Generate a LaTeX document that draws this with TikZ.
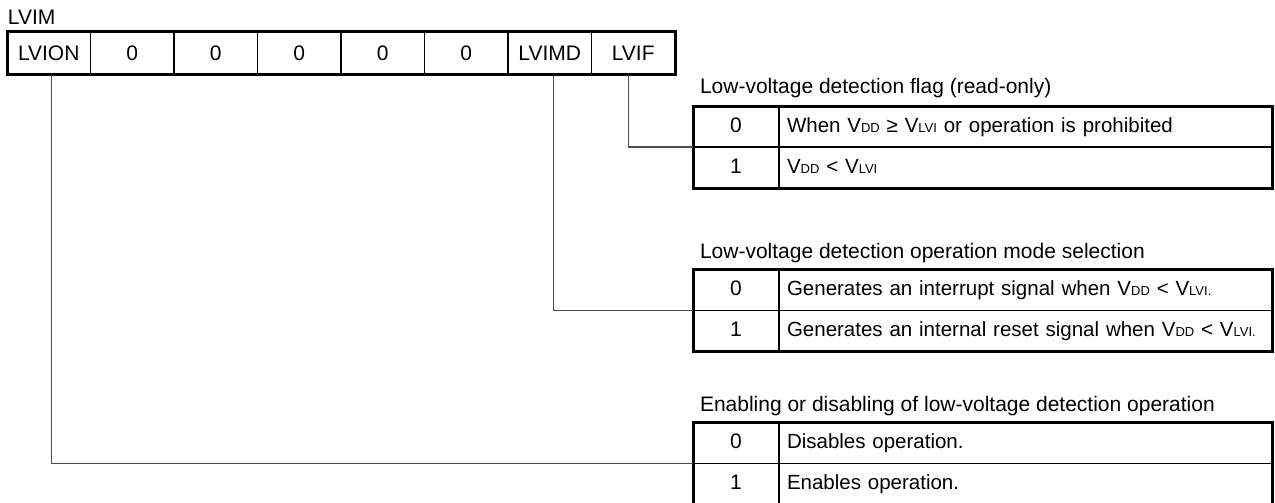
\documentclass[tikz,border=0pt]{standalone}
\usepackage{fontspec}
\setmainfont{Liberation Sans}
\usetikzlibrary{positioning}

% small subscript letters sitting on the baseline (V_DD, V_LVI)
\newcommand{\lowsub}[1]{{\fontsize{13}{13}\selectfont #1}}

\begin{document}
\begin{tikzpicture}[x=1pt, y=-1pt,
  every node/.style = {inner sep=0pt, outer sep=0pt,
    font=\fontsize{21}{25}\selectfont},
  bitcell/.style = {draw, line width=1.3pt,
    minimum width=83.5pt, minimum height=43pt,
    text height=15pt, text depth=0pt},
  valcell/.style = {draw, line width=1.3pt,
    minimum width=86pt, minimum height=41pt,
    text height=15pt, text depth=4pt},
  desccell/.style = {draw, line width=1.3pt,
    minimum height=41pt, text width=477pt, inner xsep=8pt,
    align=left, text height=15pt, text depth=4pt,
    font=\fontsize{20.5}{24}\selectfont},
  heading/.style = {anchor=base west},
  frame/.style = {line width=3pt},
  wire/.style = {line width=1.2pt, black!70}]
  \useasboundingbox (0,0) rectangle (1275,503);

  % register LVIM
  \foreach \name/\txt [count=\i] in {lvion/LVION, bit6/0, bit5/0, bit4/0,
      bit3/0, bit2/0, lvimd/LVIMD, lvif/LVIF}
    \node[bitcell] (\name) at ({7+83.5*(\i-0.5)}, 53.5) {\txt};
  \draw[frame] (lvion.north west) rectangle (lvif.south east);
  \node[heading] (lvim) at (8, 25) {LVIM};

  % LVIF
  \node[valcell] (flag0) at (736, 126.5) {0};
  \node[desccell, right=0pt of flag0] (flag0t)
    {When V\lowsub{DD} ≥ V\lowsub{LVI} or operation is prohibited};
  \node[valcell, below=0pt of flag0] (flag1) {1};
  \node[desccell, right=0pt of flag1] (flag1t) {V\lowsub{DD} < V\lowsub{LVI}};
  \draw[frame] (flag0.north west) rectangle (flag1t.south east);
  \node[heading] (flagtitle) at (700, 94) {Low-voltage detection flag (read-only)};

  % LVIMD
  \node[valcell] (mode0) at (736, 290) {0};
  \node[desccell, right=0pt of mode0] (mode0t)
    {Generates an interrupt signal when V\lowsub{DD} < V\lowsub{LVI.}};
  \node[valcell, below=0pt of mode0] (mode1) {1};
  \node[desccell, right=0pt of mode1] (mode1t)
    {Generates an internal reset signal when V\lowsub{DD} < V\lowsub{LVI.}};
  \draw[frame] (mode0.north west) rectangle (mode1t.south east);
  \node[heading] (modetitle) at (700, 258) {Low-voltage detection operation mode selection};

  % LVION
  \node[valcell] (on0) at (736, 443) {0};
  \node[desccell, right=0pt of on0] (on0t) {Disables operation.};
  \node[valcell, below=0pt of on0] (on1) {1};
  \node[desccell, right=0pt of on1] (on1t) {Enables operation.};
  \draw[frame] (on0.north west) rectangle (on1t.south east);
  \node[heading] (ontitle) at (700, 411) {Enabling or disabling of low-voltage detection operation};

  % bit lines to the tables
  \draw[wire] ([xshift=-5pt]lvif.south) |- (flag0.south west);
  \draw[wire] ([xshift=4pt]lvimd.south) |- (mode0.south west);
  \draw[wire] ([xshift=3pt]lvion.south) |- (on0.south west);
\end{tikzpicture}
\end{document}
